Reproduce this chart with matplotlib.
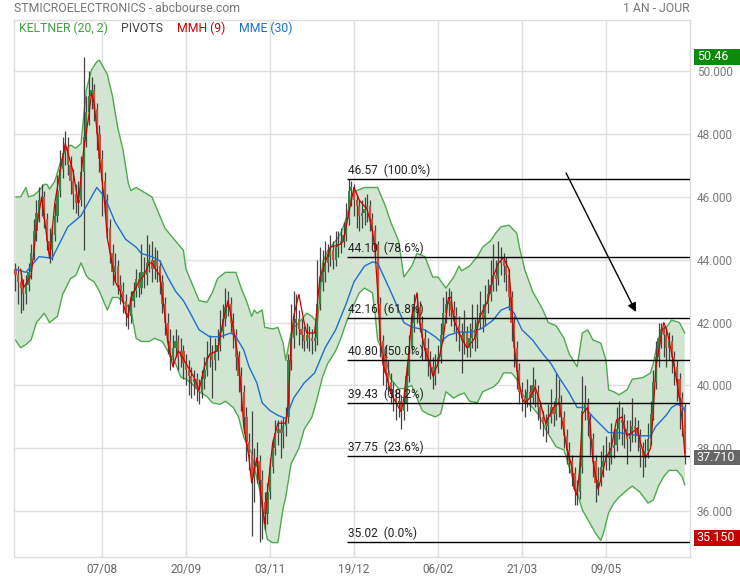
"""STMicroelectronics daily candles, 1 year, with Keltner band, MMH, MME and Fibonacci levels."""

import numpy as np
import matplotlib
matplotlib.use("Agg")
import matplotlib.pyplot as plt
from matplotlib.patches import Rectangle
from matplotlib.transforms import blended_transform_factory

plt.rcParams['font.family'] = ['Roboto', 'DejaVu Sans']

# ---- daily candles (index 0 = first session shown) ----
opens = [
    43.7, 43.5, 43.3, 43.1, 42.9, 43.2, 43.6, 44.2, 44.9, 45.5, 45.9, 46.0, 45.3, 44.6, 44.3, 44.8,
    45.4, 46.2, 46.9, 47.4, 47.6, 47.0, 46.5, 46.1, 45.8, 45.9, 46.8, 47.9, 48.7, 49.2, 49.4, 48.8,
    48.0, 47.2, 46.5, 45.9, 45.0, 44.2, 43.6, 43.8, 43.2, 43.0, 42.7, 42.3, 42.2, 42.7, 43.0, 43.4,
    43.1, 43.6, 43.5, 43.9, 44.0, 43.7, 44.0, 43.8, 43.3, 42.6, 42.0, 41.4, 40.9, 41.2, 41.4, 40.9,
    41.1, 40.7, 40.5, 40.3, 40.1, 40.2, 39.9, 39.8, 40.2, 40.5, 40.9, 41.0, 40.8, 41.1, 41.3, 41.7,
    42.1, 42.5, 42.6, 42.0, 41.6, 40.9, 40.3, 39.8, 39.0, 38.2, 37.8, 37.1, 37.4, 37.6, 37.0, 36.3,
    35.9, 36.6, 37.4, 38.0, 38.5, 38.6, 38.5, 38.7, 39.0, 40.8, 41.5, 42.0, 42.1, 41.8, 41.6, 41.4,
    41.6, 41.5, 41.4, 41.5, 42.6, 43.3, 43.6, 43.9, 44.1, 44.3, 44.0, 44.4, 44.5, 44.6, 44.8, 45.3,
    46.2, 46.3, 45.9, 45.7, 45.4, 45.5, 45.6, 45.7, 45.3, 44.9, 44.5, 42.6, 41.4, 41.0, 40.4, 40.1,
    39.9, 39.6, 39.4, 39.5, 39.2, 39.4, 40.3, 41.2, 42.0, 42.4, 42.5, 42.0, 41.5, 41.2, 40.8, 40.6,
    40.3, 40.6, 40.9, 41.6, 42.3, 42.6, 42.7, 42.4, 42.2, 41.9, 41.6, 41.4, 41.7, 41.2, 41.5, 41.8,
    41.5, 42.0, 42.3, 42.1, 42.6, 42.9, 43.2, 43.5, 43.4, 43.9, 44.0, 43.8, 43.5, 42.8, 42.0, 41.2,
    40.5, 39.8, 39.6, 39.5, 39.8, 39.6, 40.0, 39.8, 39.3, 39.0, 38.8, 38.7, 39.0, 39.3, 39.1, 39.6,
    39.4, 39.0, 38.4, 37.9, 37.6, 37.2, 36.7, 36.6, 37.4, 39.2, 39.4, 38.9, 38.3, 37.6, 36.9, 37.0,
    37.4, 37.6, 37.8, 37.7, 38.0, 38.1, 38.6, 38.9, 38.8, 38.6, 38.3, 38.5, 38.7, 38.6, 38.4, 38.0,
    37.7, 37.9, 38.3, 39.1, 40.1, 40.9, 41.5, 41.8, 41.6, 41.2, 41.4, 40.9, 40.6, 40.2, 39.6, 39.3,
]
highs = [
    43.9, 43.8, 43.6, 43.4, 43.5, 43.9, 44.5, 45.3, 45.9, 46.3, 46.4, 46.2, 45.5, 45.0, 45.1, 45.8,
    46.7, 47.5, 47.9, 48.1, 47.9, 47.3, 46.9, 46.4, 46.5, 47.3, 50.46, 49.2, 50.0, 49.8, 49.6, 49.0,
    48.3, 47.5, 46.8, 46.1, 45.3, 44.5, 44.2, 44.0, 43.5, 43.3, 42.9, 42.6, 43.0, 43.3, 43.7, 43.6,
    44.5, 44.1, 44.8, 44.5, 44.6, 44.4, 44.3, 44.0, 43.5, 42.8, 42.3, 41.8, 41.6, 41.8, 41.6, 41.5,
    41.3, 41.0, 40.8, 40.6, 40.5, 40.4, 40.2, 40.5, 40.9, 41.4, 41.6, 41.3, 41.5, 41.8, 42.4, 42.6,
    43.1, 43.0, 42.8, 42.3, 41.8, 41.1, 40.6, 40.0, 39.3, 38.5, 39.2, 38.0, 38.2, 37.8, 37.3, 36.6,
    36.9, 37.7, 38.3, 38.9, 38.9, 38.9, 39.0, 39.3, 41.0, 42.6, 43.0, 42.9, 42.4, 42.1, 41.9, 42.0,
    41.9, 41.8, 41.9, 44.0, 44.4, 44.3, 44.6, 44.5, 44.8, 44.6, 44.9, 44.9, 45.0, 45.2, 45.8, 46.57,
    46.5, 46.4, 46.1, 45.9, 45.9, 46.0, 46.1, 45.9, 45.5, 45.1, 44.6, 42.8, 41.6, 41.3, 40.8, 40.4,
    40.1, 39.9, 39.9, 39.7, 39.9, 40.6, 41.6, 42.5, 42.9, 42.9, 42.7, 42.2, 41.8, 41.5, 41.1, 40.9,
    41.0, 41.3, 42.0, 42.8, 43.0, 43.1, 43.0, 42.7, 42.5, 42.2, 42.0, 42.4, 41.9, 42.0, 42.6, 42.1,
    42.6, 43.0, 42.6, 43.2, 43.4, 44.0, 44.5, 44.0, 44.6, 44.4, 44.2, 44.1, 43.7, 43.0, 42.2, 41.4,
    40.7, 40.1, 39.9, 40.2, 40.0, 40.6, 40.2, 40.0, 39.5, 39.2, 39.1, 39.4, 39.9, 39.5, 40.4, 40.2,
    39.7, 39.2, 38.6, 38.2, 37.8, 37.4, 37.0, 37.9, 40.3, 40.0, 39.6, 39.1, 38.5, 37.8, 37.4, 37.9,
    38.1, 38.4, 38.2, 38.8, 38.6, 39.3, 39.5, 39.3, 39.1, 38.9, 38.9, 39.6, 39.0, 38.9, 38.6, 38.2,
    38.3, 38.8, 39.5, 40.5, 41.4, 42.0, 42.0, 41.9, 41.8, 41.7, 41.6, 41.1, 40.8, 40.4, 39.8, 39.4,
]
lows = [
    43.0, 42.6, 42.3, 42.4, 42.6, 43.0, 43.4, 44.0, 44.6, 45.2, 45.4, 45.0, 44.3, 43.9, 44.0, 44.6,
    45.2, 46.0, 46.6, 47.0, 46.7, 46.1, 45.6, 45.5, 45.4, 45.7, 44.3, 47.6, 48.3, 48.8, 48.4, 47.5,
    46.8, 45.4, 45.5, 44.7, 43.9, 43.2, 43.3, 42.9, 42.6, 42.3, 41.9, 41.8, 42.0, 42.5, 42.8, 42.8,
    42.9, 43.1, 43.2, 43.6, 43.3, 43.4, 43.3, 42.9, 42.3, 41.6, 41.0, 40.5, 40.6, 40.9, 40.5, 40.6,
    40.2, 40.0, 39.7, 39.6, 39.7, 39.5, 39.4, 39.6, 39.9, 40.3, 40.6, 39.6, 40.5, 40.8, 41.1, 41.5,
    41.9, 42.2, 41.7, 41.2, 40.5, 39.8, 39.2, 38.5, 37.6, 37.3, 35.2, 36.3, 36.9, 35.02, 35.1, 35.4,
    35.6, 36.4, 37.2, 37.8, 38.1, 37.7, 38.0, 38.4, 38.8, 40.5, 41.2, 41.6, 41.3, 41.2, 41.1, 41.2,
    41.1, 41.0, 41.1, 41.3, 42.4, 43.0, 43.3, 43.6, 43.8, 43.7, 43.8, 44.1, 44.2, 44.4, 44.6, 45.1,
    45.7, 45.4, 45.0, 44.9, 45.0, 45.1, 45.2, 44.9, 44.5, 44.1, 42.3, 40.9, 40.0, 39.9, 39.7, 39.4,
    39.2, 38.9, 39.0, 38.6, 38.9, 39.2, 40.1, 41.0, 41.7, 42.0, 41.7, 40.8, 40.8, 40.3, 40.2, 39.9,
    40.0, 40.4, 40.7, 41.4, 42.0, 42.2, 41.9, 41.7, 41.4, 41.1, 40.4, 41.0, 40.9, 40.9, 41.2, 41.1,
    41.2, 41.8, 41.7, 41.9, 42.3, 42.7, 43.0, 43.0, 43.2, 43.5, 43.3, 43.0, 42.4, 41.4, 40.6, 39.9,
    39.4, 39.2, 39.0, 39.3, 39.2, 39.4, 39.3, 38.9, 38.6, 38.4, 38.2, 38.5, 38.8, 38.7, 38.9, 39.0,
    38.6, 38.0, 37.5, 37.2, 36.8, 36.2, 36.2, 36.4, 37.2, 38.9, 38.4, 37.8, 37.1, 36.3, 36.5, 36.8,
    37.1, 37.3, 37.3, 37.5, 37.7, 37.9, 38.3, 38.1, 38.0, 37.5, 37.9, 38.2, 38.2, 37.9, 37.4, 37.1,
    37.4, 37.7, 38.1, 38.9, 39.9, 40.6, 41.2, 40.9, 40.6, 40.8, 40.4, 40.0, 39.5, 38.6, 38.4, 37.5,
]
closes = [
    43.5, 43.3, 43.1, 42.9, 43.2, 43.6, 44.2, 44.9, 45.5, 45.9, 46.0, 45.3, 44.6, 44.3, 44.8, 45.4,
    46.2, 46.9, 47.4, 47.6, 47.0, 46.5, 46.1, 45.8, 45.9, 46.8, 47.9, 48.7, 49.2, 49.4, 48.8, 48.0,
    47.2, 46.5, 45.9, 45.0, 44.2, 43.6, 43.8, 43.2, 43.0, 42.7, 42.3, 42.2, 42.7, 43.0, 43.4, 43.1,
    43.6, 43.5, 43.9, 44.0, 43.7, 44.0, 43.8, 43.3, 42.6, 42.0, 41.4, 40.9, 41.2, 41.4, 40.9, 41.1,
    40.7, 40.5, 40.3, 40.1, 40.2, 39.9, 39.8, 40.2, 40.5, 40.9, 41.0, 40.8, 41.1, 41.3, 41.7, 42.1,
    42.5, 42.6, 42.0, 41.6, 40.9, 40.3, 39.8, 39.0, 38.2, 37.8, 37.1, 37.4, 37.6, 37.0, 36.3, 35.9,
    36.6, 37.4, 38.0, 38.5, 38.6, 38.5, 38.7, 38.9, 40.8, 41.5, 42.0, 42.1, 41.8, 41.6, 41.4, 41.6,
    41.5, 41.4, 41.5, 42.6, 43.3, 43.6, 43.9, 44.1, 44.3, 44.0, 44.4, 44.5, 44.6, 44.8, 45.3, 46.2,
    46.3, 45.9, 45.7, 45.4, 45.5, 45.6, 45.7, 45.3, 44.9, 44.5, 42.6, 41.4, 41.0, 40.4, 40.1, 39.9,
    39.6, 39.4, 39.5, 39.2, 39.4, 40.3, 41.2, 42.0, 42.4, 42.5, 42.0, 41.5, 41.2, 40.8, 40.6, 40.3,
    40.6, 40.9, 41.6, 42.3, 42.6, 42.7, 42.4, 42.2, 41.9, 41.6, 41.4, 41.7, 41.2, 41.5, 41.8, 41.5,
    42.0, 42.3, 42.1, 42.6, 42.9, 43.2, 43.5, 43.4, 43.9, 44.0, 43.8, 43.5, 42.8, 42.0, 41.2, 40.5,
    39.8, 39.6, 39.5, 39.8, 39.6, 40.0, 39.8, 39.3, 39.0, 38.8, 38.7, 39.0, 39.3, 39.1, 39.6, 39.4,
    39.0, 38.4, 37.9, 37.6, 37.2, 36.7, 36.6, 37.4, 39.2, 39.4, 38.9, 38.3, 37.6, 36.9, 37.0, 37.4,
    37.6, 37.8, 37.7, 38.0, 38.1, 38.6, 38.9, 38.8, 38.6, 38.3, 38.5, 38.7, 38.6, 38.4, 38.0, 37.7,
    37.9, 38.3, 39.1, 40.1, 40.9, 41.5, 41.8, 41.6, 41.2, 41.4, 40.9, 40.6, 40.2, 39.6, 39.3, 37.71,
]

# ---- date axis ----
date_ticks = [33, 65, 97, 129, 161, 193, 225]
date_labels = ["07/08", "20/09", "03/11", "19/12", "06/02", "21/03", "09/05"]

# ---- Keltner (20, 2) upper / lower ----
kelt_up_idx = [0, 2, 4, 5, 7, 9, 11, 12, 13, 15, 17, 19, 21, 23, 25, 26, 27, 29, 31, 32,
               35, 37, 39, 41, 43, 44, 46, 48, 50, 52, 54, 57, 60, 62, 64, 65, 68, 70, 73, 75,
               77, 80, 84, 86, 88, 90, 91, 92, 94, 95, 98, 100, 102, 103, 105, 106, 108, 111, 113, 115,
               116, 117, 119, 122, 124, 126, 128, 130, 133, 136, 138, 141, 143, 146, 148, 151, 153, 156, 159, 161,
               164, 167, 169, 170, 173, 176, 178, 181, 183, 185, 188, 191, 192, 194, 197, 199, 201, 203, 206, 209,
               211, 214, 216, 218, 220, 223, 225, 226, 228, 230, 233, 235, 239, 242, 243, 244, 246, 248, 250, 253, 255]
kelt_up = [46.0, 46.0, 46.3, 46.0, 46.05, 46.2, 46.4, 46.4, 46.25, 46.5, 47.05, 47.5, 47.65, 47.55, 47.7, 48.55, 49.4, 50.04, 50.3, 50.35,
           49.9, 49.2, 48.2, 47.5, 46.44, 46.2, 46.3, 46.2, 46.1, 46.0, 45.6, 45.0, 44.7, 44.5, 44.3, 43.7, 43.1, 42.7, 42.65, 42.95,
           43.4, 43.6, 43.6, 43.1, 42.7, 42.2, 42.4, 42.3, 42.4, 41.85, 41.8, 41.85, 41.35, 40.8, 41.67, 41.85, 42.0, 42.3, 42.2, 42.0,
           42.8, 43.9, 44.3, 44.6, 44.85, 45.3, 46.0, 46.2, 46.3, 46.3, 46.3, 45.7, 45.2, 44.6, 43.45, 43.8, 44.2, 44.1, 43.45, 43.45,
           43.1, 43.45, 43.8, 43.65, 43.8, 44.1, 44.4, 44.6, 44.85, 45.05, 45.1, 44.85, 44.4, 43.7, 43.0, 42.7, 42.4, 42.0, 41.9, 41.5,
           41.0, 40.6, 41.67, 41.77, 41.45, 41.35, 40.8, 39.86, 39.8, 39.7, 39.86, 40.2, 40.25, 40.4, 40.7, 41.1, 41.77, 41.85, 42.08, 42.0, 41.67]
kelt_dn_idx = [0, 2, 4, 6, 8, 11, 13, 16, 18, 21, 23, 25, 27, 28, 30, 32, 35, 37, 39, 42,
               44, 46, 48, 51, 53, 56, 58, 61, 63, 65, 68, 70, 73, 75, 78, 80, 83, 85, 87, 89,
               90, 91, 93, 95, 96, 98, 100, 102, 103, 105, 108, 110, 113, 115, 117, 119, 122, 124, 126, 128,
               131, 133, 136, 137, 138, 141, 143, 146, 148, 151, 153, 155, 157, 160, 162, 164, 167, 169, 171, 173,
               176, 178, 182, 184, 186, 188, 189, 191, 193, 195, 197, 199, 201, 202, 206, 209, 211, 214, 216, 219,
               221, 223, 224, 226, 228, 230, 233, 235, 238, 241, 243, 245, 247, 249, 252, 254, 255]
kelt_dn = [41.45, 41.2, 41.3, 41.45, 42.0, 42.3, 42.0, 42.2, 42.9, 43.4, 43.5, 43.9, 43.5, 43.4, 43.3, 43.0, 42.4, 42.8, 42.8, 42.6,
           42.4, 41.5, 41.4, 41.4, 41.5, 41.4, 41.1, 40.7, 40.27, 40.2, 40.0, 39.8, 39.65, 39.45, 39.4, 39.5, 39.3, 39.0, 38.35, 38.0,
           37.85, 37.4, 36.7, 35.5, 35.1, 35.0, 35.0, 36.1, 36.45, 37.5, 38.0, 38.6, 39.0, 39.6, 40.27, 40.7, 41.1, 41.5, 42.0, 42.4,
           42.95, 43.1, 42.95, 42.3, 41.45, 40.9, 40.2, 39.9, 39.9, 40.0, 39.6, 39.2, 39.1, 39.0, 39.1, 39.8, 39.6, 39.7, 39.76, 39.5,
           39.45, 39.8, 39.95, 40.1, 40.4, 40.4, 40.4, 40.2, 39.76, 39.45, 39.3, 39.1, 38.8, 38.6, 38.05, 37.95, 37.4, 36.6, 36.04, 35.6,
           35.3, 35.07, 35.3, 35.95, 36.26, 36.45, 36.67, 36.8, 36.6, 36.26, 36.35, 36.8, 37.1, 37.3, 37.3, 37.1, 36.84]

# ---- MME (30) ----
mme_idx = [0, 4, 9, 14, 20, 25, 27, 31, 34, 38, 42, 46, 48, 52, 55, 58, 61, 64, 66, 70,
           74, 78, 82, 84, 87, 89, 92, 94, 97, 100, 103, 106, 110, 114, 118, 122, 126, 129, 133, 136,
           138, 141, 144, 148, 151, 156, 160, 162, 165, 169, 174, 178, 182, 185, 188, 190, 193, 197, 201, 204,
           207, 211, 214, 217, 220, 223, 226, 230, 234, 238, 242, 244, 248, 250, 252, 254, 255]
mme = [43.7, 43.6, 44.1, 44.05, 45.05, 45.4, 45.7, 46.3, 46.0, 45.2, 44.65, 44.4, 44.2, 44.1, 43.97, 43.45, 43.0, 42.7, 42.4, 41.77,
       41.55, 41.55, 41.67, 41.55, 41.13, 40.6, 40.08, 39.45, 39.2, 39.05, 38.95, 39.6, 40.08, 40.4, 41.2, 41.77, 42.6, 43.3, 43.8, 43.93,
       43.9, 43.35, 42.8, 42.0, 41.86, 41.77, 41.55, 41.4, 41.6, 41.7, 41.7, 41.83, 42.08, 42.4, 42.5, 42.3, 41.77, 41.45, 41.0, 40.7,
       40.27, 39.76, 39.3, 39.3, 39.0, 38.75, 38.5, 38.5, 38.45, 38.4, 38.4, 38.7, 39.06, 39.3, 39.4, 39.35, 39.2]

# ---- MMH (9) ----
mmh_idx = [2, 3, 6, 8, 10, 13, 15, 17, 19, 22, 24, 26, 28, 29, 30, 32, 34, 35, 37, 38,
           40, 42, 43, 44, 47, 49, 51, 52, 55, 57, 58, 60, 62, 63, 65, 68, 70, 72, 74, 77,
           79, 81, 83, 85, 86, 87, 89, 90, 92, 93, 95, 96, 98, 100, 103, 104, 105, 106, 108, 110,
           111, 114, 116, 118, 120, 124, 125, 127, 129, 131, 134, 136, 137, 138, 139, 140, 142, 143, 145, 147,
           148, 150, 151, 153, 154, 156, 158, 159, 161, 163, 165, 166, 167, 170, 172, 175, 177, 180, 182, 184,
           186, 188, 189, 190, 191, 193, 194, 196, 198, 200, 202, 205, 207, 208, 210, 212, 213, 214, 215, 216,
           218, 219, 220, 222, 223, 225, 227, 229, 231, 233, 235, 237, 238, 240, 242, 243, 244, 246, 247, 248,
           249, 251, 253, 254, 255]
mmh = [43.7, 43.1, 43.5, 45.0, 46.0, 44.05, 45.8, 46.8, 47.7, 46.8, 45.8, 47.5, 48.6, 49.3, 49.0, 47.3, 45.8, 44.7, 43.8, 43.3,
       43.0, 42.3, 42.15, 42.8, 43.3, 43.5, 43.9, 43.9, 43.5, 42.2, 41.4, 40.6, 41.1, 41.0, 40.7, 40.27, 39.86, 40.6, 41.0, 41.1,
       42.0, 42.7, 41.86, 40.8, 39.86, 38.7, 37.7, 36.9, 37.7, 36.9, 35.6, 36.6, 38.17, 38.8, 38.8, 39.45, 41.35, 42.2, 42.9, 42.0,
       41.67, 41.67, 43.45, 43.9, 44.4, 44.5, 44.6, 45.5, 46.3, 45.9, 45.6, 44.95, 44.3, 43.0, 41.5, 40.7, 40.1, 39.76, 39.45, 39.16,
       39.6, 41.13, 42.2, 42.95, 42.0, 41.13, 40.7, 40.3, 40.7, 41.5, 42.8, 42.8, 42.08, 41.5, 41.2, 41.5, 42.2, 42.7, 43.45, 43.9,
       44.06, 43.7, 42.6, 41.35, 40.5, 39.6, 39.45, 39.6, 39.95, 39.45, 38.8, 39.3, 39.45, 39.0, 38.05, 37.4, 36.7, 36.5, 37.4, 39.1,
       39.3, 38.7, 37.6, 36.7, 37.0, 37.7, 38.0, 38.9, 39.0, 38.4, 38.5, 38.65, 38.2, 37.7, 38.0, 39.2, 40.6, 41.55, 42.0, 41.8,
       41.45, 40.6, 39.6, 38.9, 37.85]

# ---- Fibonacci retracement ----
fib_levels = [46.57, 44.10, 42.16, 40.80, 39.43, 37.75, 35.02]
fib_pcts = [100.0, 78.6, 61.8, 50.0, 38.2, 23.6, 0.0]
fib_start = 126.5

# ---- right-hand price tags ----
tag_values = [50.46, 37.710, 35.150]
tag_texts = ["50.46", "37.710", "35.150"]
tag_colors = ["#0b8a0b", "#666666", "#c40000"]

# ---- hand-drawn arrow ----
arrow_from = (209.8, 46.76)
arrow_to = (236.4, 42.34)

W, H = 740, 580
fig = plt.figure(figsize=(W / 100, H / 100), dpi=100)
ax = fig.add_axes([14 / W, 23 / H, 676 / W, 537 / H])

idx = np.arange(len(closes))
o = np.array(opens)
c = np.array(closes)

# Keltner band
ax.fill(np.r_[kelt_up_idx, kelt_dn_idx[::-1]], np.r_[kelt_up, kelt_dn[::-1]],
        color='#d0e6d0', lw=0, zorder=1)
ax.plot(kelt_up_idx, kelt_up, color='#4fa94f', lw=1, zorder=2)
ax.plot(kelt_dn_idx, kelt_dn, color='#4fa94f', lw=1, zorder=2)

# candles
up = c >= o
ax.vlines(idx, lows, highs, color='#444444', lw=0.9, zorder=3)
bottoms = np.minimum(o, c)
heights = np.maximum(np.abs(c - o), 0.04)
ax.bar(idx[up], heights[up], bottom=bottoms[up], width=0.85, color='#2f8a4a', zorder=4)
ax.bar(idx[~up], heights[~up], bottom=bottoms[~up], width=0.85, color='#c4553b', zorder=4)

# moving averages
ax.plot(mme_idx, mme, color='#1e6fcf', lw=1, zorder=5)
ax.plot(mmh_idx, mmh, color='#d10000', lw=0.9, zorder=6)

# fibonacci levels
x_right = 257.0
ax.hlines(fib_levels, fib_start, x_right, color='black', lw=1, zorder=7)
for lev, pct in zip(fib_levels, fib_pcts):
    ax.annotate(f"{lev:.2f}  ({pct:.1f}%)", xy=(fib_start, lev), xytext=(0.5, 1.5),
                textcoords='offset points', fontsize=8.6, color='#222222',
                ha='left', va='bottom', zorder=8)

ax.annotate('', xy=arrow_to, xytext=arrow_from,
            arrowprops=dict(arrowstyle='-|>', color='black', lw=1,
                            mutation_scale=13, shrinkA=0, shrinkB=0), zorder=8)

# axes styling
ax.set_xlim(-0.53, x_right)
ax.set_ylim(34.543, 51.629)
ax.set_xticks(date_ticks, date_labels)
ax.set_yticks(np.arange(36, 51, 2))
ax.set_yticklabels([f"{v:.3f}" for v in np.arange(36, 51, 2)])
ax.yaxis.tick_right()
ax.tick_params(axis='x', length=0, pad=4, labelcolor='#666666', labelsize=8.5)
ax.tick_params(axis='y', length=0, pad=5, labelcolor='#7a7a7a', labelsize=8.5)
ax.grid(True, color='#e0e0e0', lw=1)
for sp in ax.spines.values():
    sp.set_color('#dddddd')
    sp.set_linewidth(1)

# price tags on the right (drawn over the nearest tick labels, as in the source)
trans = blended_transform_factory(ax.transAxes, ax.transData)
tag_h = 0.5
for val, txt, col in zip(tag_values, tag_texts, tag_colors):
    ax.add_patch(Rectangle((1.006, val - tag_h / 2), 0.075, tag_h, transform=trans,
                           facecolor=col, edgecolor='none', clip_on=False, zorder=10))
    ax.text(1.010, val, txt, transform=trans, color='white', fontsize=9,
            ha='left', va='center', clip_on=False, zorder=11)

# header and legend
fig.text(14 / W, 1 - 9 / H, "STMICROELECTRONICS - abcbourse.com", color='#777777',
         fontsize=8.8, ha='left', va='center')
fig.text(690 / W, 1 - 9 / H, "1 AN - JOUR", color='#777777', fontsize=8.8,
         ha='right', va='center')
legend_items = [("KELTNER (20, 2)", '#3fa33f', 19), ("PIVOTS", '#444444', 121),
                ("MMH (9)", '#cc0000', 177), ("MME (30)", '#1e6fcf', 239)]
for txt, col, px in legend_items:
    fig.text(px / W, 1 - 28 / H, txt, color=col, fontsize=8.8, ha='left', va='center')

fig.savefig("out.png", dpi=100)
